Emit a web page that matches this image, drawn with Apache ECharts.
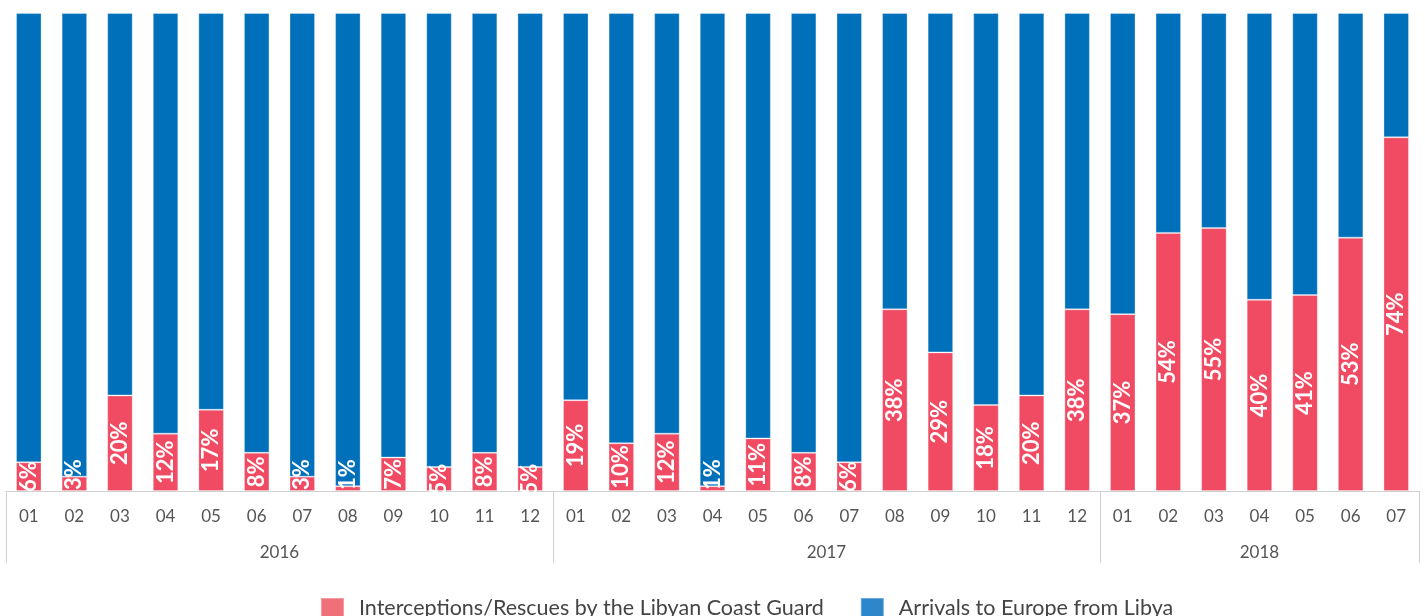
<!DOCTYPE html>
<html>
<head>
<meta charset="utf-8">
<script src="https://cdn.jsdelivr.net/npm/echarts@6/dist/echarts.min.js"></script>
<style>html,body{margin:0;padding:0;background:#fff}#c{width:1425px;height:616px}</style>
</head>
<body>
<div id="c"></div>
<script>
const months = ['01','02','03','04','05','06','07','08','09','10','11','12',
                '01','02','03','04','05','06','07','08','09','10','11','12',
                '01','02','03','04','05','06','07'];
const years = ['2016','2017','2018'];
const yearLabelPos = [5.5, 17.5, 27];
const yearBounds = [-0.5, 11.5, 23.5, 30.5];
const interceptions = [6,3,20,12,17,8,3,1,7,5,8,5,
                       19,10,12,1,11,8,6,38,29,18,20,38,
                       37,54,55,40,41,53,74];
const arrivals = interceptions.map(v => 100 - v);
const seriesNames = ['Interceptions/Rescues by the Libyan Coast Guard', 'Arrivals to Europe from Libya'];

// tiny bars: label pushed up from the bottom so it stays in the plot
const redData = interceptions.map(v => v < 5
  ? {value: v, label: {position: 'insideBottom', distance: 1, align: 'left', verticalAlign: 'middle'}}
  : v);

const chart = echarts.init(document.getElementById('c'));
chart.setOption({
  animation: false,
  textStyle: {fontFamily: 'Lato'},
  grid: {left: 6, right: 6, top: 13, bottom: 125},
  legend: {
    top: 597, left: 320, padding: 0,
    itemWidth: 23, itemHeight: 20, itemGap: 36,
    icon: 'rect',
    textStyle: {fontSize: 21.5, color: '#444', fontFamily: 'Lato', padding: [0,0,0,10]},
    data: [
      {name: seriesNames[0], itemStyle: {color: '#F07079'}},
      {name: seriesNames[1], itemStyle: {color: '#2E86CB'}}
    ]
  },
  xAxis: [
    {
      type: 'category', data: months, position: 'bottom',
      axisLine: {show: true, lineStyle: {color: '#d0d0d0', width: 1}},
      axisTick: {show: false},
      axisLabel: {color: '#555', fontSize: 17, margin: 17, interval: 0}
    },
    {
      type: 'value', min: -0.5, max: 30.5, position: 'bottom',
      splitLine: {show: false},
      axisLine: {show: false},
      axisTick: {show: true, inside: false, length: 72, customValues: yearBounds,
                 lineStyle: {color: '#d0d0d0', width: 1}},
      axisLabel: {show: true, customValues: yearLabelPos, margin: 53, color: '#555', fontSize: 17,
                  formatter: v => years[yearLabelPos.indexOf(v)] || ''}
    }
  ],
  yAxis: {type: 'value', min: 0, max: 100, show: false, splitLine: {show: false}},
  series: [
    {
      name: seriesNames[0], type: 'bar', stack: 'a', data: redData, barWidth: '56%',
      itemStyle: {color: '#F04B63', borderColor: 'rgba(255,255,255,0.3)', borderWidth: 1},
      label: {show: true, position: 'inside', rotate: 90, color: '#fff', fontSize: 22,
              fontWeight: 'bold', fontFamily: 'Lato', formatter: p => p.value + '%'}
    },
    {
      name: seriesNames[1], type: 'bar', stack: 'a', data: arrivals, barWidth: '56%',
      itemStyle: {color: '#0070BA', borderColor: 'rgba(255,255,255,0.3)', borderWidth: 1}
    }
  ]
});
</script>
</body>
</html>
